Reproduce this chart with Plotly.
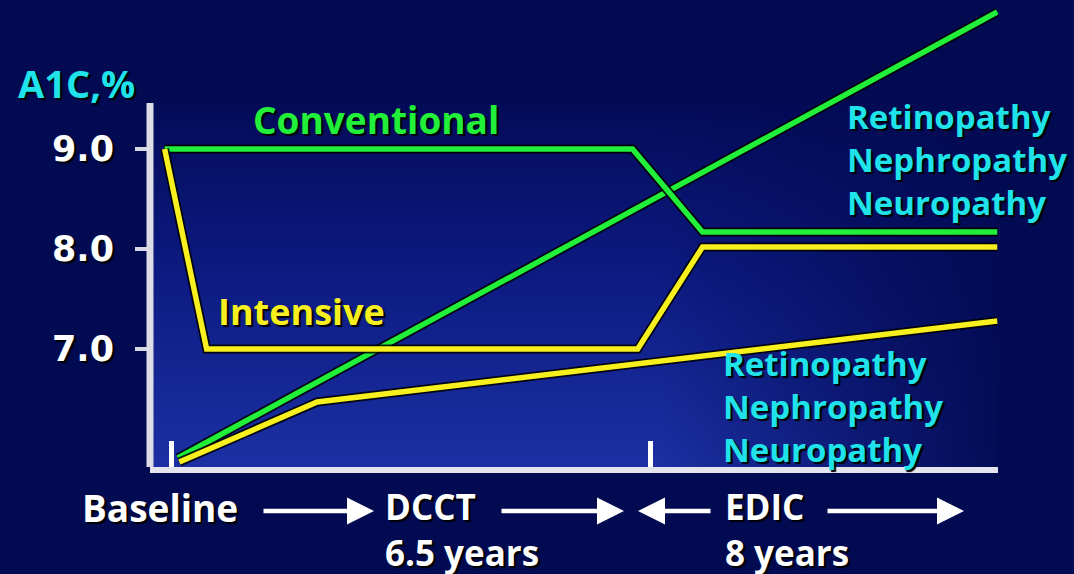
import plotly.graph_objects as go

# ---- data -------------------------------------------------------------
# time axis in study years (baseline = 0, end of DCCT = 6.5)
conv_a1c_x = [-0.1, 6.25, 7.2, 11.2]
conv_a1c_y = [9.0, 9.0, 8.17, 8.17]

int_a1c_x = [-0.1, 0.47, 6.32, 7.2, 11.2]
int_a1c_y = [9.0, 7.0, 7.0, 8.02, 8.02]

conv_comp_x = [0.08, 11.2]
conv_comp_y = [5.91, 10.37]

int_comp_x = [0.1, 1.97, 11.2]
int_comp_y = [5.87, 6.47, 7.28]

y_ticks = [7.0, 8.0, 9.0]
y_tick_text = ["7.0", "8.0", "9.0"]
phase_marks = [0.0, 6.5]

complications = ["Retinopathy", "Nephropathy", "Neuropathy"]

# ---- styling -----------------------------------------------------------
BG = "#020a52"
GREEN = "#22ef3a"
YELLOW = "#f7f01e"
CYAN = "#1fe2ea"
WHITE = "#ffffff"
FONT = "Open Sans"
SHADOW = "2px 2px 1px #000000"

W, H = 1074, 574
L, R, T, B = 150, 76, 5, 107
PW, PH = W - L - R, H - T - B

X_RANGE = [-0.2985, 11.21]
Y_RANGE = [5.82, 10.44]
Y_TOP = 9.46


def px(xp, yp):
    """Convert page pixel position to paper coordinates."""
    return (xp - L) / PW, (H - B - yp) / PH


fig = go.Figure()

# plot-area background with a soft blue gradient
bx = [X_RANGE[0], X_RANGE[1], X_RANGE[1], X_RANGE[0], X_RANGE[0]]
by = [Y_RANGE[0], Y_RANGE[0], Y_TOP, Y_TOP, Y_RANGE[0]]
fig.add_trace(go.Scatter(
    x=bx, y=by, mode="none", fill="toself", hoverinfo="skip", showlegend=False,
    fillgradient=dict(type="vertical",
                      colorscale=[[0, "#1c30a4"], [0.55, "#0c1a80"], [1, "#030b58"]]),
))
fig.add_trace(go.Scatter(
    x=bx, y=by, mode="none", fill="toself", hoverinfo="skip", showlegend=False,
    fillgradient=dict(type="horizontal",
                      colorscale=[[0, "rgba(2,10,82,0)"], [0.6, "rgba(2,10,82,0)"],
                                  [1, "rgba(2,10,82,0.95)"]]),
))


def add_line(xs, ys, color):
    fig.add_trace(go.Scatter(x=xs, y=ys, mode="lines", hoverinfo="skip", showlegend=False,
                             line=dict(color="rgba(0,0,0,0.85)", width=9)))
    fig.add_trace(go.Scatter(x=xs, y=ys, mode="lines", hoverinfo="skip", showlegend=False,
                             line=dict(color=color, width=5.5)))


# complication-risk lines first, A1C curves on top
add_line(conv_comp_x, conv_comp_y, GREEN)
add_line(int_comp_x, int_comp_y, YELLOW)
add_line(conv_a1c_x, conv_a1c_y, GREEN)
add_line(int_a1c_x, int_a1c_y, YELLOW)

# y axis line (stops at the top of the shaded area)
fig.add_shape(type="line", xref="paper", yref="y", x0=0, x1=0,
              y0=Y_RANGE[0] - 0.03, y1=Y_TOP, line=dict(color="#dcdce6", width=7))

annotations = []


def label(text, xl, yc, color, size, anchor="left"):
    xp, yp = px(xl, yc)
    annotations.append(dict(
        text=text, x=xp, y=yp, xref="paper", yref="paper", showarrow=False,
        xanchor=anchor, yanchor="middle", align="left",
        font=dict(family=FONT, size=size, color=color, weight="bold", shadow=SHADOW),
    ))


label("A1C,%", 16, 83, CYAN, 38)
label("Conventional", 251, 120, GREEN, 37)
label("Intensive", 216, 311, YELLOW, 36)
label("<br>".join(complications), 845, 159, CYAN, 33)
label("<br>".join(complications), 721, 406, CYAN, 33)
label("Baseline", 80, 507, WHITE, 37)
label("DCCT<br>6.5 years", 383, 529, WHITE, 35)
label("EDIC<br>8 years", 723, 529, WHITE, 35)


def arrow(x_tail, x_head, yc):
    hx, hy = px(x_head, yc)
    annotations.append(dict(
        x=hx, y=hy, xref="paper", yref="paper", text="", showarrow=True,
        ax=x_tail - x_head, ay=0, axref="pixel", ayref="pixel",
        arrowhead=2, arrowsize=1.2, arrowwidth=4.5, arrowcolor=WHITE,
    ))


arrow(262, 374, 511)
arrow(500, 624, 511)
arrow(712, 638, 511)
arrow(826, 964, 511)

fig.update_layout(
    width=W, height=H,
    margin=dict(l=L, r=R, t=T, b=B, pad=0),
    paper_bgcolor=BG, plot_bgcolor=BG,
    showlegend=False,
    annotations=annotations,
    xaxis=dict(range=X_RANGE, showgrid=False, zeroline=False,
               showline=True, linecolor="#e4e4ee", linewidth=6,
               tickvals=phase_marks, ticks="inside", ticklen=26, tickwidth=5,
               tickcolor=WHITE, showticklabels=False, fixedrange=True),
    yaxis=dict(range=Y_RANGE, showgrid=False, zeroline=False, showline=False,
               tickvals=y_ticks, ticktext=y_tick_text, ticks="outside",
               ticklen=14, tickwidth=4, tickcolor="#d8d8e4",
               ticklabelstandoff=14,
               tickfont=dict(family="DejaVu Sans", size=35, color=WHITE,
                             weight="bold", shadow=SHADOW),
               fixedrange=True),
)

fig.write_html("out.html")
